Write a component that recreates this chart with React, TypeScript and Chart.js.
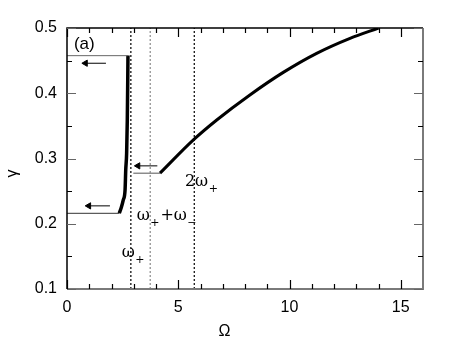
import React, { useEffect, useRef } from 'react';
import { Chart, registerables } from 'chart.js';

Chart.register(...registerables);

// ---- data ----
const xTickValues = [0, 5, 10, 15];
const yTickValues = [0.1, 0.2, 0.3, 0.4, 0.5];
const xMinorTicks = [1, 2, 3, 4, 6, 7, 8, 9, 11, 12, 13, 14];
const yMinorTicks = [0.15, 0.25, 0.35, 0.45];

// left (thick) branch
const leftOmega = [2.35, 2.45, 2.53, 2.61, 2.64, 2.68, 2.71, 2.73, 2.74];
const leftGamma = [0.216, 0.226, 0.2366, 0.252, 0.2825, 0.308, 0.359, 0.42, 0.458];

// right (thick) branch
const rightOmega = [4.18, 5.68, 6.73, 8.22, 9.72, 11.22, 12.72, 14.0];
const rightGamma = [0.2775, 0.3285, 0.359, 0.3974, 0.432, 0.4612, 0.4842, 0.5];

// thin horizontal jump lines: [omegaStart, omegaEnd, gamma]
const jumpLower = [0, 2.35, 0.216];
const jumpUpper = [0, 2.74, 0.4576];
const jumpMiddle = [2.98, 4.18, 0.2775];

// arrows: [omegaTail, omegaHead, gamma]
const arrowUpper = [1.75, 0.83, 0.446];
const arrowLower = [1.93, 0.98, 0.2274];
const arrowMiddle = [4.06, 3.19, 0.2887];

// dotted verticals
const dottedOmega = [2.87, 3.74, 5.72];
const dottedColors = ['#000000', '#8a8a8a', '#000000'];

const sans = "'Liberation Sans', Arial, sans-serif";
const serif = "'DejaVu Serif', 'Liberation Serif', serif";

const seg = (a: number[]) => [
  { x: a[0], y: a[2] },
  { x: a[1], y: a[2] },
];

const decorPlugin = {
  id: 'decor',
  afterDatasetsDraw(chart: any) {
    const { ctx, chartArea: a, scales } = chart;
    const x = scales.x;
    const y = scales.y;
    ctx.save();

    // frame
    ctx.lineWidth = 1.5;
    ctx.strokeStyle = '#000';
    ctx.beginPath();
    ctx.moveTo(a.left, a.bottom);
    ctx.lineTo(a.left, a.top);
    ctx.lineTo(a.right, a.top);
    ctx.stroke();
    ctx.lineWidth = 2;
    ctx.strokeStyle = '#7a7a7a';
    ctx.beginPath();
    ctx.moveTo(a.right, a.top);
    ctx.lineTo(a.right, a.bottom);
    ctx.lineTo(a.left, a.bottom);
    ctx.stroke();

    // inward ticks
    ctx.lineWidth = 1.2;
    const xt = (v: number, len: number, col: string) => {
      const px = Math.round(x.getPixelForValue(v)) + 0.5;
      ctx.strokeStyle = col;
      ctx.beginPath();
      ctx.moveTo(px, a.bottom);
      ctx.lineTo(px, a.bottom - len);
      ctx.moveTo(px, a.top);
      ctx.lineTo(px, a.top + len);
      ctx.stroke();
    };
    const yt = (v: number, len: number, col: string) => {
      const py = Math.round(y.getPixelForValue(v)) + 0.5;
      ctx.strokeStyle = col;
      ctx.beginPath();
      ctx.moveTo(a.left, py);
      ctx.lineTo(a.left + len, py);
      ctx.moveTo(a.right, py);
      ctx.lineTo(a.right - len, py);
      ctx.stroke();
    };
    xTickValues.forEach((v) => xt(v, 9, '#000'));
    xMinorTicks.forEach((v) => xt(v, 5, '#000'));
    yTickValues.forEach((v) => yt(v, 9, '#666'));
    yMinorTicks.forEach((v) => yt(v, 5, '#000'));

    // axis titles
    ctx.fillStyle = '#000';
    ctx.font = `16px ${sans}`;
    ctx.textAlign = 'center';
    ctx.textBaseline = 'middle';
    ctx.fillText('Ω', x.getPixelForValue(7.08), a.bottom + 43);
    ctx.save();
    ctx.translate(13, y.getPixelForValue(0.277));
    ctx.rotate(-Math.PI / 2);
    ctx.fillText('γ', 0, 0);
    ctx.restore();

    // panel label
    ctx.textAlign = 'left';
    ctx.textBaseline = 'alphabetic';
    ctx.font = `17px ${sans}`;
    ctx.fillText('(a)', x.getPixelForValue(0.31), y.getPixelForValue(0.468));

    // frequency annotations
    const big = `16px ${serif}`;
    const small = `11px ${serif}`;
    const run = (parts: [string, boolean][], ox: number, oy: number) => {
      let cx = x.getPixelForValue(ox);
      const by = y.getPixelForValue(oy);
      parts.forEach(([t, sub]) => {
        ctx.font = sub ? small : big;
        ctx.fillText(t, cx, sub ? by + 6 : by);
        cx += ctx.measureText(t).width + (sub ? 1 : 0.5);
      });
    };
    run([['2ω', false], ['+', true]], 5.3, 0.258);
    run([['ω', false], ['+', true], ['+ω', false], ['−', true]], 3.13, 0.206);
    run([['ω', false], ['+', true]], 2.46, 0.149);

    ctx.restore();
  },
};

export default function App() {
  const ref = useRef<HTMLCanvasElement | null>(null);

  useEffect(() => {
    if (!ref.current) return;
    const thin = (data: any[], color = '#444') => ({
      data,
      showLine: true,
      borderColor: color,
      borderWidth: 1,
      pointRadius: 0,
    });
    const arrow = (a: number[]) => ({
      data: seg(a),
      showLine: true,
      borderColor: '#000',
      borderWidth: 1,
      pointRadius: [0, 3.6],
      pointStyle: 'triangle',
      pointRotation: -90,
      pointBackgroundColor: '#000',
      pointBorderColor: '#000',
      pointBorderWidth: 1,
    });
    const datasets: any[] = [
      ...dottedOmega.map((o, i) => ({
        data: [
          { x: o, y: 0.1 },
          { x: o, y: 0.5 },
        ],
        showLine: true,
        borderColor: dottedColors[i],
        borderWidth: 1.2,
        borderDash: [2, 2],
        pointRadius: 0,
      })),
      thin(seg(jumpLower), '#333'),
      thin(seg(jumpUpper), '#666'),
      thin(seg(jumpMiddle), '#555'),
      arrow(arrowUpper),
      arrow(arrowLower),
      arrow(arrowMiddle),
      {
        data: leftOmega.map((o, i) => ({ x: o, y: leftGamma[i] })),
        showLine: true,
        borderColor: '#000',
        borderWidth: 3.5,
        pointRadius: 0,
        cubicInterpolationMode: 'monotone',
      },
      {
        data: rightOmega.map((o, i) => ({ x: o, y: rightGamma[i] })),
        showLine: true,
        borderColor: '#000',
        borderWidth: 3,
        pointRadius: 0,
        cubicInterpolationMode: 'monotone',
      },
    ];

    const chart = new Chart(ref.current, {
      type: 'scatter',
      data: { datasets },
      plugins: [decorPlugin],
      options: {
        animation: false,
        responsive: false,
        layout: { padding: { left: 0, right: 27, top: 28, bottom: 0 } },
        plugins: { legend: { display: false }, tooltip: { enabled: false } },
        scales: {
          x: {
            type: 'linear',
            min: 0,
            max: 16,
            grid: { display: false, drawTicks: false },
            border: { display: false },
            afterBuildTicks: (s: any) => {
              s.ticks = xTickValues.map((v) => ({ value: v }));
            },
            afterFit: (s: any) => {
              s.height = 54;
            },
            ticks: {
              padding: 9,
              color: '#000',
              font: { family: sans, size: 16 },
              callback: (v: any) => String(v),
            },
          },
          y: {
            type: 'linear',
            min: 0.1,
            max: 0.5,
            grid: { display: false, drawTicks: false },
            border: { display: false },
            afterBuildTicks: (s: any) => {
              s.ticks = yTickValues.map((v) => ({ value: v }));
            },
            afterFit: (s: any) => {
              s.width = 67;
            },
            ticks: {
              padding: 10,
              color: '#000',
              font: { family: sans, size: 16 },
              callback: (v: any) => Number(v).toFixed(1),
            },
          },
        },
      },
    } as any);
    return () => chart.destroy();
  }, []);

  return (
    <canvas
      ref={ref}
      width={450}
      height={343}
      style={{ position: 'absolute', left: 0, top: 0, display: 'block', background: '#fff' }}
    />
  );
}
